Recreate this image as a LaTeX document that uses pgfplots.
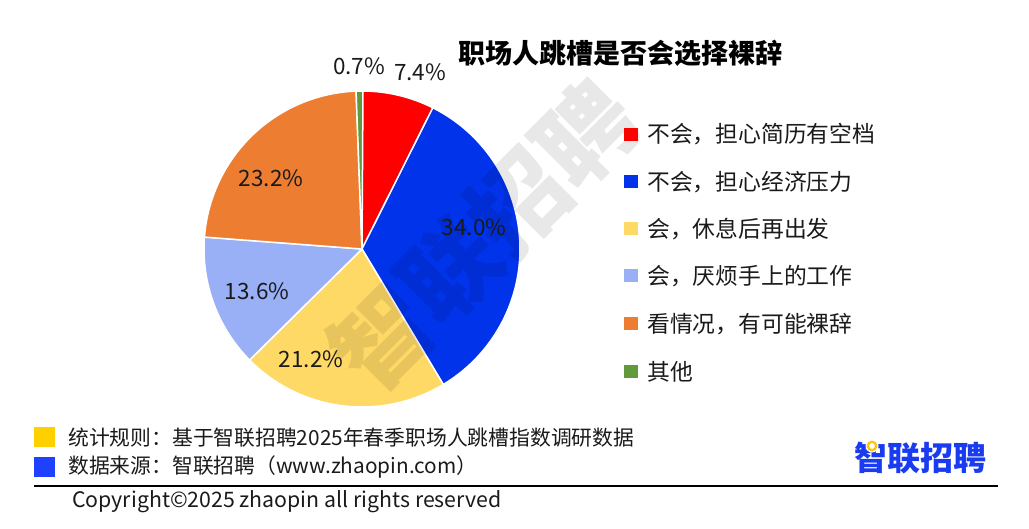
\documentclass[border=0pt]{standalone}
\usepackage{fontspec}
\setmainfont{Noto Sans CJK SC}
\usepackage{pgfplots}
\pgfplotsset{compat=1.18}
\usepackage{pgfplotstable}

\definecolor{cRed}{HTML}{FF0000}
\definecolor{cBlue}{HTML}{0033EA}
\definecolor{cYellow}{HTML}{FFD966}
\definecolor{cLBlue}{HTML}{99AFF6}
\definecolor{cOrange}{HTML}{ED7D31}
\definecolor{cGreen}{HTML}{619A3C}
\definecolor{fYellow}{HTML}{FFD000}
\definecolor{fBlue}{HTML}{2040FF}
\definecolor{logoBlue}{HTML}{1A3CF0}
\definecolor{logoYellow}{HTML}{FFC400}
\definecolor{txt}{HTML}{1A1A1A}

% share (%) of each answer, clockwise from 12 o'clock
\pgfplotstableread{
value color
7.4 cRed
34.0 cBlue
21.2 cYellow
13.6 cLBlue
23.2 cOrange
0.7 cGreen
}\piedata

\begin{document}
\begin{tikzpicture}
\path[use as bounding box] (0pt,0pt) rectangle (1029pt,-529pt);

\begin{axis}[at={(362pt,-249pt)}, anchor=center, scale only axis,
  width=316pt, height=316pt, xmin=-1, xmax=1, ymin=-1, ymax=1,
  hide axis, clip=false]
\pgfplotstablegetrowsof{\piedata}
\pgfmathtruncatemacro\nrows{\pgfplotsretval-1}
\xdef\pieStart{90}
\pgfplotsforeachungrouped \i in {0,...,\nrows} {
  \pgfplotstablegetelem{\i}{value}\of\piedata \let\v\pgfplotsretval
  \pgfplotstablegetelem{\i}{color}\of\piedata \let\c\pgfplotsretval
  \pgfmathsetmacro\pieStop{\pieStart-3.6*\v}
  \edef\doplot{\noexpand\addplot[fill=\c, draw=white, line width=1.5pt, line join=round,
     domain=\pieStop:\pieStart, samples=90, variable=\noexpand\t]
     ({cos(\noexpand\t)},{sin(\noexpand\t)}) -- (0,0) -- cycle;}
  \doplot
  \xdef\pieStart{\pieStop}
}
\end{axis}

\begin{scope}[x=1pt,y=-1pt]
% watermark
\node[rotate=45, font=\fontsize{96}{96}\selectfont\bfseries, text=black, opacity=0.09] at (484,236) {智联招聘};

% title
\node[font=\fontsize{27}{27}\selectfont\bfseries, text=black] at (620,53) {职场人跳槽是否会选择裸辞};

% data labels
\begin{scope}[every node/.style={font=\fontsize{22.5}{22.5}\selectfont, text=txt}]
\node at (359,66) {0.7\%};
\node at (420,72) {7.4\%};
\node at (474,227) {34.0\%};
\node at (311,359) {21.2\%};
\node at (257,291) {13.6\%};
\node at (271,178) {23.2\%};
\end{scope}

% legend
\begin{scope}[every node/.style={font=\fontsize{22.8}{22.8}\selectfont, text=txt, anchor=west, inner sep=0pt}]
\fill[cRed]    (624,128) rectangle (638,141); \node at (647,134.5) {不会，担心简历有空档};
\fill[cBlue]   (624,175.5) rectangle (638,188.5); \node at (647,182) {不会，担心经济压力};
\fill[cYellow] (624,222.5) rectangle (638,235.5); \node at (647,229) {会，休息后再出发};
\fill[cLBlue]  (624,269.5) rectangle (638,282.5); \node at (647,276) {会，厌烦手上的工作};
\fill[cOrange] (624,317.5) rectangle (638,330.5); \node at (647,324) {看情况，有可能裸辞};
\fill[cGreen]  (624,365.5) rectangle (638,378.5); \node at (647,372) {其他};
\end{scope}

% footer
\fill[fYellow] (34,427) rectangle (55,447);
\fill[fBlue] (34,457) rectangle (55,477);
\begin{scope}[every node/.style={text=txt, anchor=west, inner sep=0pt}]
\node[font=\fontsize{20.8}{20.8}\selectfont] at (68,438) {统计规则：基于智联招聘2025年春季职场人跳槽指数调研数据};
\node[font=\fontsize{20.8}{20.8}\selectfont] at (68,467) {数据来源：智联招聘（www.zhaopin.com）};
\node[font=\fontsize{21.3}{21.3}\selectfont] at (72,502) {Copyright©2025 zhaopin all rights reserved};
\end{scope}
\draw[line width=2pt] (34,486) -- (998,486);

% logo
\node[font=\fontsize{33}{33}\selectfont\bfseries, text=logoBlue, inner sep=0pt] at (920,458) {智联招聘};
\fill[white] (872,446) circle (6.5);
\draw[logoYellow, line width=2.2pt] (872,446) circle (4.2);
\end{scope}
\end{tikzpicture}
\end{document}
